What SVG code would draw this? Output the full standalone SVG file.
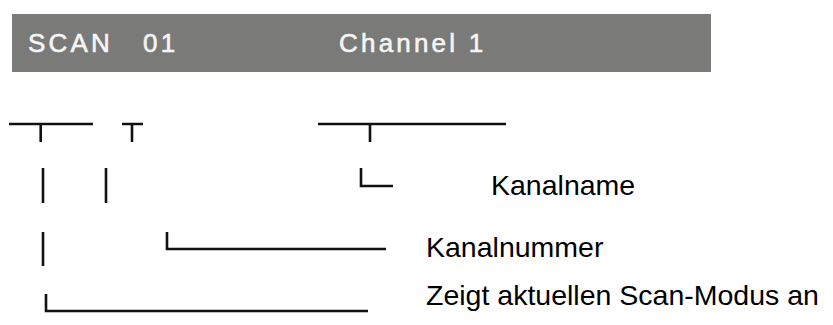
<svg xmlns="http://www.w3.org/2000/svg" width="833" height="325" viewBox="0 0 833 325">
<style>
.bar{fill:#7a7a78}
.bt{font-family:"Liberation Sans",Arial,sans-serif;font-size:26px;fill:#f5f5f5;letter-spacing:3.2px;stroke:#f5f5f5;stroke-width:0.6}
.lbl{font-family:"Liberation Sans",Arial,sans-serif;font-size:28.5px;fill:#000}
.ln{stroke:#111;stroke-width:2.6;fill:none;stroke-linecap:butt}
</style>
<rect width="833" height="325" fill="#fff"/>
<g id="display">
<rect class="bar" x="12" y="14" width="699" height="58"/>
<text class="bt" x="28" y="52">SCAN</text>
<text class="bt" x="143" y="52">01</text>
<text class="bt" x="339" y="52">Channel 1</text>
</g>
<g id="connectors">
<path class="ln" d="M9 124H93M40.7 124V142"/>
<path class="ln" d="M122 124H143M132 124V142"/>
<path class="ln" d="M318 124H506M370 124V142"/>
<path class="ln" d="M43 168V203M106 168V203"/>
<path class="ln" d="M361 168V186H393"/>
<path class="ln" d="M43 232V266"/>
<path class="ln" d="M167 232V249H386"/>
<path class="ln" d="M46 294V311H368"/>
</g>
<g id="label-kanalname"><text class="lbl" x="491" y="195">Kanalname</text></g>
<g id="label-kanalnummer"><text class="lbl" x="426" y="257">Kanalnummer</text></g>
<g id="label-modus"><text class="lbl" x="426" y="305">Zeigt aktuellen Scan-Modus an</text></g>
</svg>
